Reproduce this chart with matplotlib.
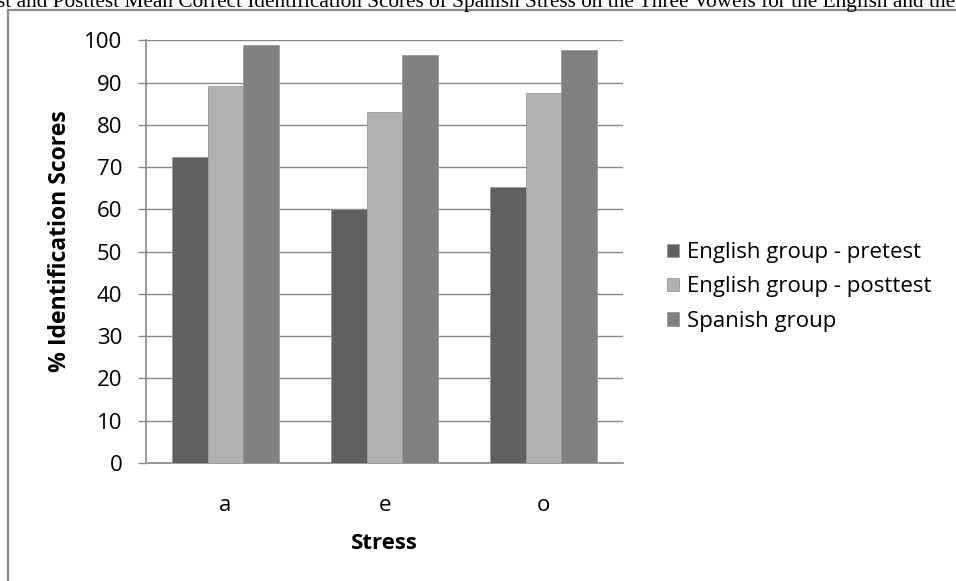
import numpy as np
import matplotlib.pyplot as plt
from matplotlib.lines import Line2D

vowels = ['a', 'e', 'o']
pretest = [72.3, 60.2, 65.3]
posttest = [89.3, 83.0, 87.6]
spanish = [99.0, 96.6, 97.8]
series_names = ['English group - pretest', 'English group - posttest', 'Spanish group']
colors = ['#606060', '#b2b2b2', '#808080']
title = ('st and Posttest Mean Correct Identification Scores of Spanish Stress '
         'on the Three Vowels for the English and the')

plt.rcParams['font.family'] = ['Open Sans', 'DejaVu Sans']

fig = plt.figure(figsize=(9.56, 5.81), dpi=100)
ax = fig.add_axes([0.1527, 0.2031, 0.4990, 0.7275])

x = np.arange(len(vowels))
w = 0.223
for i, (vals, name, c) in enumerate(zip([pretest, posttest, spanish], series_names, colors)):
    ax.bar(x + (i - 1) * w, vals, width=w, color=c, edgecolor='#9a9a9a',
           linewidth=0.6, label=name, zorder=3)

ax.set_xlim(-0.5, 2.5)
ax.set_ylim(0, 100)
ax.set_yticks(range(0, 101, 10))
ax.set_xticks(x)
ax.set_xticklabels(vowels)
ax.tick_params(axis='y', length=6, width=1, color='#888888', labelsize=16,
               labelcolor='#000000', pad=11)
ax.tick_params(axis='x', length=0, labelsize=16, pad=23)
ax.grid(axis='y', color='#888888', linewidth=1, zorder=0)
ax.set_axisbelow(True)
for s in ['top', 'right']:
    ax.spines[s].set_visible(False)
for s in ['left', 'bottom']:
    ax.spines[s].set_color('#888888')
    ax.spines[s].set_linewidth(1.2)

ax.set_ylabel('% Identification Scores', fontsize=16.6, fontweight='bold')
ax.yaxis.set_label_coords(-0.155, 0.525)
ax.set_xlabel('Stress', fontsize=16, fontweight='bold', labelpad=12)

ax.legend(loc='center left', bbox_to_anchor=(667 / 956, 1 - 287 / 581),
          bbox_transform=fig.transFigure, frameon=False, borderaxespad=0,
          fontsize=16, handlelength=0.55, handleheight=0.55, handletextpad=0.35,
          labelspacing=0.6, borderpad=0)

# outer chart frame (cut off by the page)
fig.add_artist(Line2D([8 / 956, 1], [1 - 10 / 581, 1 - 10 / 581], color='#8a8a8a',
                      linewidth=1.6, transform=fig.transFigure))
fig.add_artist(Line2D([8 / 956, 8 / 956], [0, 1 - 10 / 581], color='#8a8a8a',
                      linewidth=1.6, transform=fig.transFigure))

fig.text(-0.003, 1 - 7 / 581, title, ha='left', va='baseline', fontsize=15.3,
         family=['Liberation Serif', 'DejaVu Serif'])

fig.savefig('out.png', dpi=100)
